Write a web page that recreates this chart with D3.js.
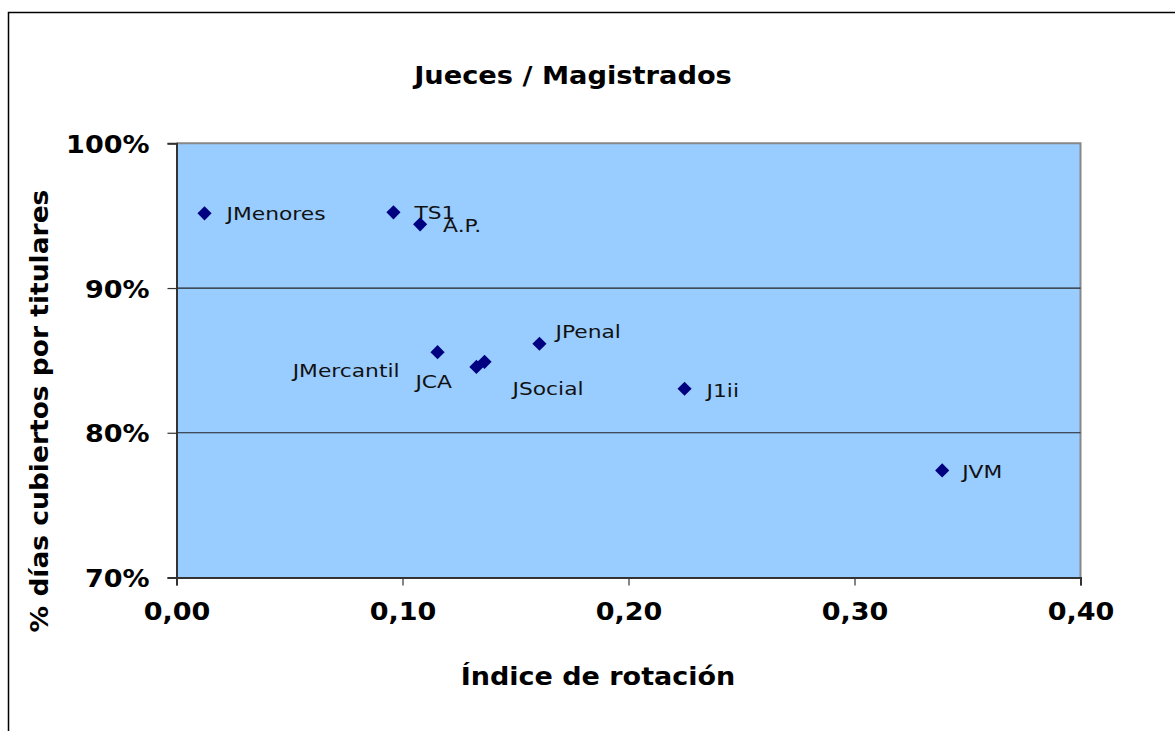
<!DOCTYPE html>
<html><head><meta charset="utf-8">
<script src="https://cdn.jsdelivr.net/npm/d3@7"></script>
<style>body{margin:0;background:#fff}svg{display:block}text{font-family:"DejaVu Sans",Verdana,sans-serif}</style>
</head><body><svg id="c" width="1175" height="731"></svg>
<script>
const names = ["JMenores","TS1","A.P.","JMercantil","JCA","JSocial","JPenal","J1ii","JVM"];
const xValues = [0.0124,0.0960,0.1078,0.1155,0.1327,0.1363,0.1606,0.2248,0.3388];
const yValues = [0.9516,0.9523,0.9440,0.8557,0.8455,0.8490,0.8615,0.8304,0.7740];
const xTicks = [0,0.1,0.2,0.3,0.4];
const yTicks = [0.7,0.8,0.9,1.0];
// label offsets (px) relative to marker, and anchor
const labelDx = [22,21,23,-38,-61,28,16,22,20];
const labelDy = [7,7,8,25,21,33,-6,8,8];
const labelAnchor = ["start","start","start","end","start","start","start","start","start"];

const svg = d3.select("#c");
const L=176.5, R=1080.5, T=143.3, B=577.5;
const x = d3.scaleLinear().domain([0,0.4]).range([L,R]);
const y = d3.scaleLinear().domain([0.7,1.0]).range([B,T]);

function stretch(sel,k){sel.each(function(){const w=this.getComputedTextLength();d3.select(this).attr("textLength",w*k).attr("lengthAdjust","spacingAndGlyphs");});}

// outer chart border
svg.append("rect").attr("x",8.5).attr("y",12.5).attr("width",1300).attr("height",1000).attr("fill","#fff").attr("stroke","#000").attr("stroke-width",1.5);

// plot area
svg.append("rect").attr("x",L).attr("y",T).attr("width",R-L).attr("height",B-T).attr("fill","#99CCFF");
svg.append("path").attr("d",`M${L},${T}H${R}V${B}`).attr("fill","none").attr("stroke","#888").attr("stroke-width",2);

// gridlines
svg.append("g").selectAll("line").data(yTicks.filter(d=>d>0.7&&d<1.0)).join("line")
  .attr("x1",L).attr("x2",R).attr("y1",d=>y(d)).attr("y2",d=>y(d)).attr("stroke","#222").attr("stroke-width",1.2);

// axes
const fmtX = d=>d3.format(".2f")(d).replace(".",",");
const xAxis = svg.append("g").attr("transform",`translate(0,${B})`)
  .call(d3.axisBottom(x).tickValues(xTicks).tickFormat(fmtX).tickSize(8).tickPadding(17));
const yAxis = svg.append("g").attr("transform",`translate(${L},0)`)
  .call(d3.axisLeft(y).tickValues(yTicks).tickFormat(d3.format(".0%")).tickSize(9).tickPadding(18));
[xAxis,yAxis].forEach(a=>{
  a.select(".domain").attr("stroke","#333").attr("stroke-width",2);
  a.selectAll(".tick line").attr("stroke","#333").attr("stroke-width",1.2);
  a.selectAll("text").attr("font-family","'DejaVu Sans',sans-serif").attr("font-size",25).attr("font-weight","bold").attr("fill","#000");
});
xAxis.selectAll("text").attr("dy","0.71em");
yAxis.selectAll("text").attr("dy","0.36em");
stretch(xAxis.selectAll("text"),1.08);
stretch(yAxis.selectAll("text"),1.08);

// markers
const pts = names.map((n,i)=>({n,x:xValues[i],y:yValues[i],dx:labelDx[i],dy:labelDy[i],a:labelAnchor[i]}));
svg.append("g").selectAll("path").data(pts).join("path")
  .attr("d",d3.symbol(d3.symbolSquare,100))
  .attr("transform",d=>`translate(${x(d.x)},${y(d.y)}) rotate(45)`)
  .attr("fill","#000080");
const labs = svg.append("g").selectAll("text").data(pts).join("text")
  .attr("x",d=>x(d.x)+d.dx).attr("y",d=>y(d.y)+d.dy).attr("text-anchor",d=>d.a)
  .attr("font-size",18).attr("fill","#111").text(d=>d.n);
stretch(labs,1.21);

// titles
const t = svg.append("text").attr("x",573).attr("y",84).attr("text-anchor","middle").attr("font-size",25).attr("font-weight","bold").text("Jueces / Magistrados");
stretch(t,1.09);
const xt = svg.append("text").attr("x",598).attr("y",685).attr("text-anchor","middle").attr("font-size",25).attr("font-weight","bold").text("Índice de rotación");
stretch(xt,1.08);
const yt = svg.append("text").attr("transform","translate(48,411) rotate(-90)").attr("text-anchor","middle").attr("font-size",25).attr("font-weight","bold").text("% días cubiertos por titulares");
stretch(yt,1.06);
</script></body></html>
